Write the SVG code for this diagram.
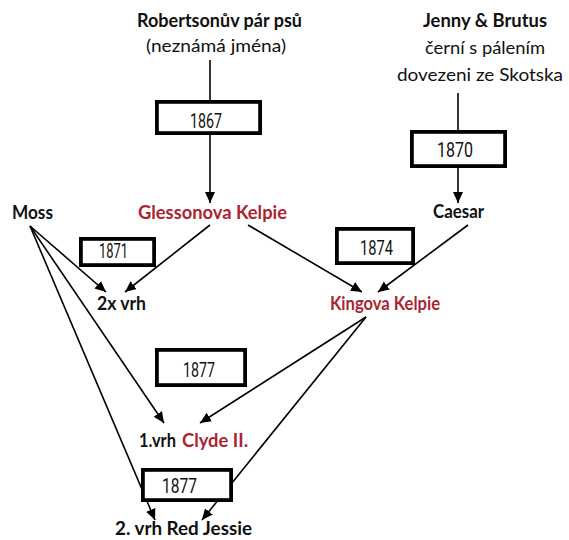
<svg xmlns="http://www.w3.org/2000/svg" width="569" height="540" viewBox="0 0 569 540">
<style>
.t{font-family:Lato,"Open Sans","Liberation Sans",sans-serif;font-size:18px;fill:#111;}
.b{font-weight:bold;}
.r{fill:#ab2530;}
.box{fill:#fff;stroke:#000;stroke-width:3.8;}
.yr{font-family:Roboto,"Liberation Sans",sans-serif;font-size:19.5px;font-weight:400;fill:#111;}
.c line{stroke:#000;stroke-width:1.6;}
.c line.a{marker-end:url(#ah);}
</style>
<defs>
<marker id="ah" markerUnits="userSpaceOnUse" markerWidth="12" markerHeight="12" viewBox="0 0 12 12" refX="11" refY="6" orient="auto">
<path d="M0,1 L11,6 L0,11 Z" fill="#000"/>
</marker>
</defs>
<rect width="569" height="540" fill="#fff"/>
<g class="c" id="connectors">
<line x1="210" y1="60" x2="210" y2="101"/>
<line class="a" x1="210" y1="135" x2="210" y2="203"/>
<line x1="458" y1="93" x2="458" y2="130"/>
<line class="a" x1="458" y1="168" x2="458" y2="203"/>
<line class="a" x1="30" y1="226" x2="106" y2="292"/>
<line class="a" x1="210" y1="225" x2="125" y2="292"/>
<line class="a" x1="248" y1="225" x2="362" y2="292"/>
<line class="a" x1="468" y1="225" x2="378" y2="292"/>
<line class="a" x1="30" y1="226" x2="164" y2="423"/>
<line class="a" x1="366" y1="317" x2="200" y2="423"/>
<line class="a" x1="30" y1="226" x2="155" y2="520"/>
<line class="a" x1="366" y1="317" x2="202" y2="520"/>
</g>
<g id="robertson">
<text class="t b" x="137" y="27" textLength="165" lengthAdjust="spacingAndGlyphs">Robertsonův pár psů</text>
<text class="t" x="146" y="52" textLength="140" lengthAdjust="spacingAndGlyphs">(neznámá jména)</text>
</g>
<g id="jenny">
<text class="t b" x="423" y="27" textLength="124" lengthAdjust="spacingAndGlyphs">Jenny &amp; Brutus</text>
<text class="t" x="425" y="54" textLength="120" lengthAdjust="spacingAndGlyphs">černí s pálením</text>
<text class="t" x="397" y="81" textLength="166" lengthAdjust="spacingAndGlyphs">dovezeni ze Skotska</text>
</g>
<g id="y1867"><rect class="box" x="156.9" y="101.9" width="103.2" height="31.2"/><text class="yr" x="190" y="128" textLength="32" lengthAdjust="spacingAndGlyphs">1867</text></g>
<g id="y1870"><rect class="box" x="411.9" y="131.9" width="93.2" height="34.2"/><text class="yr" x="437" y="157" textLength="36" lengthAdjust="spacingAndGlyphs">1870</text></g>
<g id="moss"><text class="t b" x="12" y="219" textLength="41" lengthAdjust="spacingAndGlyphs">Moss</text></g>
<g id="glessonova"><text class="t b r" x="138" y="219" textLength="149" lengthAdjust="spacingAndGlyphs">Glessonova Kelpie</text></g>
<g id="caesar"><text class="t b" x="433" y="218" textLength="51" lengthAdjust="spacingAndGlyphs">Caesar</text></g>
<g id="y1871"><rect class="box" x="80.9" y="238.9" width="73.2" height="26.2"/><text class="yr" x="99" y="258" textLength="29" lengthAdjust="spacingAndGlyphs">1871</text></g>
<g id="y1874"><rect class="box" x="336.9" y="228.9" width="76.2" height="34.2"/><text class="yr" x="360" y="255" textLength="33" lengthAdjust="spacingAndGlyphs">1874</text></g>
<g id="vrh2x"><text class="t b" x="97" y="310" textLength="49" lengthAdjust="spacingAndGlyphs">2x vrh</text></g>
<g id="kingova"><text class="t b r" x="330" y="310" textLength="110" lengthAdjust="spacingAndGlyphs">Kingova Kelpie</text></g>
<g id="y1877a"><rect class="box" x="156.9" y="349.9" width="88.2" height="35.2"/><text class="yr" x="183" y="377" textLength="32" lengthAdjust="spacingAndGlyphs">1877</text></g>
<g id="clyde"><text class="t b"><tspan x="139" y="447" textLength="37" lengthAdjust="spacingAndGlyphs">1.vrh</tspan> <tspan class="r" x="182" y="447" textLength="66" lengthAdjust="spacingAndGlyphs">Clyde II.</tspan></text></g>
<g id="y1877b"><rect class="box" x="142.9" y="469.9" width="88.2" height="30.2"/><text class="yr" x="162" y="493" textLength="35" lengthAdjust="spacingAndGlyphs">1877</text></g>
<g id="jessie"><text class="t b" x="115" y="535" textLength="137" lengthAdjust="spacingAndGlyphs">2. vrh Red Jessie</text></g>
</svg>
